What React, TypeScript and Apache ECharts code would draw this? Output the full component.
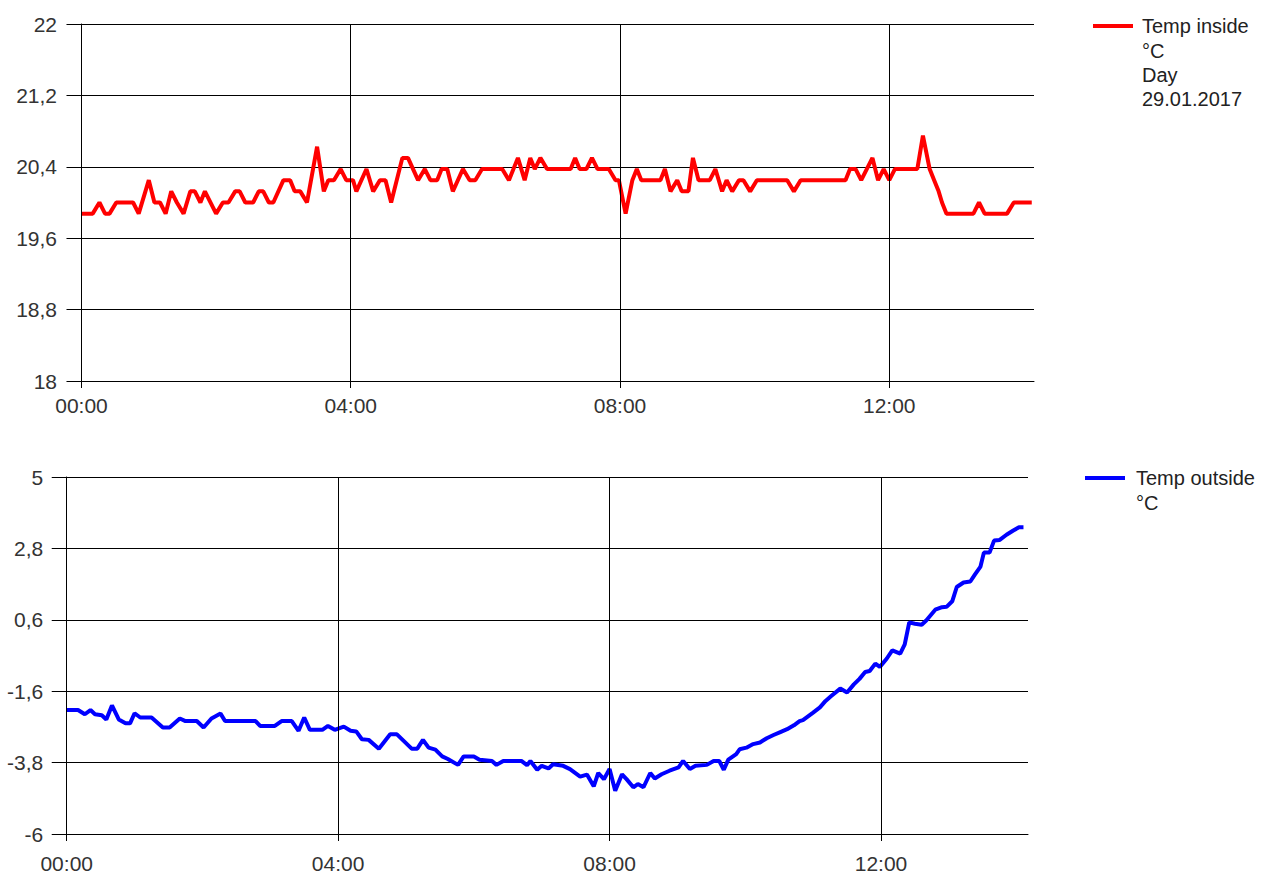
import React, { useEffect, useRef } from 'react';
import * as echarts from 'echarts';

// [minutes since 00:00, °C]
const insideTemp: [number, number][] = [
  [0, 19.875], [10, 19.875], [16, 20], [21, 19.875], [25, 19.875], [31, 20], [46, 20], [51, 19.875],
  [60, 20.25], [65, 20], [70, 20], [75, 19.875], [80, 20.125], [85, 20], [91, 19.875], [97, 20.125],
  [101, 20.125], [106, 20], [110, 20.125], [120, 19.875], [126, 20], [131, 20], [137, 20.125], [141, 20.125],
  [146, 20], [153, 20], [158, 20.125], [162, 20.125], [167, 20], [171, 20], [180, 20.25], [186, 20.25],
  [190, 20.125], [195, 20.125], [201, 20], [210, 20.625], [216, 20.125], [220, 20.25], [225, 20.25], [231, 20.375],
  [236, 20.25], [242, 20.25], [245, 20.125], [254, 20.375], [260, 20.125], [266, 20.25], [271, 20.25], [276, 20],
  [286, 20.5], [291, 20.5], [300, 20.25], [306, 20.375], [311, 20.25], [317, 20.25], [321, 20.375], [326, 20.375],
  [331, 20.125], [340, 20.375], [346, 20.25], [351, 20.25], [357, 20.375], [375, 20.375], [381, 20.25], [389, 20.5],
  [395, 20.25], [400, 20.5], [404, 20.375], [409, 20.5], [415, 20.375], [436, 20.375], [440, 20.5], [444, 20.375],
  [450, 20.375], [455, 20.5], [460, 20.375], [470, 20.375], [476, 20.25], [479, 20.25], [485, 19.875], [491, 20.25],
  [495, 20.375], [499, 20.25], [516, 20.25], [520, 20.375], [525, 20.125], [531, 20.25], [535, 20.125], [541, 20.125],
  [545, 20.5], [550, 20.25], [560, 20.25], [565, 20.375], [571, 20.125], [575, 20.25], [580, 20.125], [586, 20.25],
  [590, 20.25], [596, 20.125], [602, 20.25], [629, 20.25], [635, 20.125], [641, 20.25], [681, 20.25], [685, 20.375],
  [690, 20.375], [695, 20.25], [705, 20.5], [710, 20.25], [715, 20.375], [720, 20.25], [725, 20.375], [745, 20.375],
  [750, 20.75], [756, 20.375], [760, 20.25], [764, 20.125], [767, 20], [771, 19.875], [795, 19.875], [800, 20],
  [805, 19.875], [825, 19.875], [831, 20], [847, 20],
];

const outsideTemp: [number, number][] = [
  [0, -2.18], [10, -2.18], [16, -2.31], [21, -2.18], [25, -2.31], [31, -2.34], [35, -2.47], [40, -2.04],
  [46, -2.47], [52, -2.59], [56, -2.59], [60, -2.28], [65, -2.41], [75, -2.41], [85, -2.72], [91, -2.72],
  [100, -2.44], [105, -2.52], [115, -2.52], [121, -2.72], [128, -2.44], [136, -2.29], [140, -2.52], [167, -2.52],
  [171, -2.67], [184, -2.67], [190, -2.52], [199, -2.52], [205, -2.82], [210, -2.41], [215, -2.79], [226, -2.79],
  [231, -2.67], [237, -2.79], [245, -2.69], [251, -2.82], [256, -2.84], [261, -3.08], [267, -3.1], [276, -3.37],
  [286, -2.93], [292, -2.93], [305, -3.37], [310, -3.37], [315, -3.1], [320, -3.34], [326, -3.4], [332, -3.61],
  [337, -3.69], [346, -3.87], [351, -3.61], [360, -3.61], [365, -3.71], [376, -3.75], [380, -3.87], [386, -3.75],
  [402, -3.75], [407, -3.88], [410, -3.75], [416, -4.02], [420, -3.9], [426, -3.98], [430, -3.85], [439, -3.9],
  [445, -4.0], [454, -4.23], [460, -4.17], [466, -4.53], [470, -4.12], [475, -4.31], [480, -4.0], [485, -4.67],
  [491, -4.16], [495, -4.31], [501, -4.56], [505, -4.46], [510, -4.56], [516, -4.12], [520, -4.29], [526, -4.16],
  [533, -4.05], [541, -3.95], [545, -3.75], [551, -4.0], [556, -3.9], [566, -3.87], [572, -3.75], [577, -3.75],
  [581, -4.02], [585, -3.71], [592, -3.54], [595, -3.39], [601, -3.34], [607, -3.23], [613, -3.18], [619, -3.05],
  [625, -2.95], [631, -2.86], [637, -2.77], [643, -2.65], [648, -2.52], [651, -2.49], [660, -2.26], [666, -2.1],
  [671, -1.9], [676, -1.75], [684, -1.52], [690, -1.64], [696, -1.39], [701, -1.22], [706, -1.01], [710, -0.98],
  [715, -0.75], [719, -0.85], [725, -0.6], [730, -0.34], [737, -0.44], [741, -0.16], [745, 0.52], [750, 0.48],
  [756, 0.45], [760, 0.58], [768, 0.91], [774, 0.99], [778, 1.0], [783, 1.17], [787, 1.61], [793, 1.75],
  [799, 1.78], [803, 1.99], [808, 2.24], [811, 2.67], [816, 2.67], [820, 3.04], [825, 3.06], [831, 3.22],
  [837, 3.35], [842, 3.45], [846, 3.45],
];

const timeTicks = [0, 240, 480, 720];
const insideYTicks = [18, 18.8, 19.6, 20.4, 21.2, 22];
const outsideYTicks = [-6, -3.8, -1.6, 0.6, 2.8, 5];
const insideLegend = ['Temp inside', '°C', 'Day', '29.01.2017'];
const outsideLegend = ['Temp outside', '°C'];

const FONT = 'Liberation Sans';

const fmtTime = (v: number) => {
  const h = Math.floor(v / 60);
  const m = Math.round(v - h * 60);
  return String(h).padStart(2, '0') + ':' + String(m).padStart(2, '0');
};
const fmtNum = (v: number) => {
  const r = Math.round(v * 10) / 10;
  return Number.isInteger(r) ? String(r) : r.toFixed(1).replace('.', ',');
};
const step = (t: number[]) => Math.round((t[1] - t[0]) * 1000) / 1000;

export default function App() {
  const ref = useRef<HTMLDivElement>(null);
  useEffect(() => {
    document.body.style.margin = '0';
    if (!ref.current) return;
    const chart = echarts.init(ref.current, undefined, { renderer: 'svg' });

    const xAxisBase = (gridIndex: number, min: number, max: number, margin: number) => ({
      type: 'value',
      gridIndex,
      min,
      max,
      axisLine: { show: true, onZero: false, lineStyle: { color: '#000', width: 1 } },
      axisTick: { show: true, length: 7, customValues: timeTicks, lineStyle: { color: '#000' } },
      axisLabel: {
        customValues: timeTicks,
        formatter: (v: number) => fmtTime(v),
        color: '#333',
        fontFamily: FONT,
        fontSize: 21,
        margin,
      },
      splitLine: { show: false },
    });

    const yAxisBase = (gridIndex: number, ticks: number[], margin: number) => ({
      type: 'value',
      gridIndex,
      min: ticks[0],
      max: ticks[ticks.length - 1],
      interval: step(ticks),
      axisLine: { show: true, lineStyle: { color: '#000', width: 1 } },
      axisTick: { show: true, length: 15, lineStyle: { color: '#000' } },
      axisLabel: {
        formatter: (v: number) => fmtNum(v),
        color: '#333',
        fontFamily: FONT,
        fontSize: 21,
        margin,
      },
      splitLine: { show: true, lineStyle: { color: '#000', width: 1 } },
    });

    const vGrid = {
      silent: true,
      symbol: ['none', 'none'],
      label: { show: false },
      lineStyle: { color: '#000', width: 1, type: 'solid' },
      emphasis: { disabled: true },
      data: timeTicks.map((t) => ({ xAxis: t })),
    };

    chart.setOption({
      animation: false,
      backgroundColor: '#fff',
      grid: [
        { left: 77, top: 24, width: 957, height: 357, containLabel: false },
        { left: 62.2, top: 477, width: 965.8, height: 358.5, containLabel: false },
      ],
      xAxis: [xAxisBase(0, -4, 849, 14), xAxisBase(1, -4, 850, 19)],
      yAxis: [yAxisBase(0, insideYTicks, 20), yAxisBase(1, outsideYTicks, 19)],
      legend: [
        {
          data: [insideLegend[0]],
          left: 1093,
          top: 14,
          padding: 0,
          icon: 'rect',
          itemWidth: 40,
          itemHeight: 4,
          selectedMode: false,
          textStyle: { color: '#222', fontFamily: FONT, fontSize: 20, lineHeight: 24, padding: [0, 0, 0, 4] },
        },
        {
          data: [outsideLegend[0]],
          left: 1085,
          top: 466,
          padding: 0,
          icon: 'rect',
          itemWidth: 40,
          itemHeight: 4,
          selectedMode: false,
          textStyle: { color: '#222', fontFamily: FONT, fontSize: 20, lineHeight: 24, padding: [0, 0, 0, 6] },
        },
      ],
      title: [
        {
          text: insideLegend.slice(1).join('\n'),
          left: 1142,
          top: 39,
          padding: 0,
          textStyle: { color: '#222', fontFamily: FONT, fontSize: 20, fontWeight: 'normal', lineHeight: 24 },
        },
        {
          text: outsideLegend.slice(1).join('\n'),
          left: 1136,
          top: 491,
          padding: 0,
          textStyle: { color: '#222', fontFamily: FONT, fontSize: 20, fontWeight: 'normal', lineHeight: 24 },
        },
      ],
      series: [
        {
          name: insideLegend[0],
          type: 'line',
          xAxisIndex: 0,
          yAxisIndex: 0,
          data: insideTemp,
          showSymbol: false,
          symbol: 'none',
          color: '#ff0000',
          lineStyle: { color: '#ff0000', width: 4 },
          markLine: vGrid,
          z: 3,
        },
        {
          name: outsideLegend[0],
          type: 'line',
          xAxisIndex: 1,
          yAxisIndex: 1,
          data: outsideTemp,
          showSymbol: false,
          symbol: 'none',
          color: '#0000ff',
          lineStyle: { color: '#0000ff', width: 4 },
          markLine: vGrid,
          z: 3,
        },
      ],
    });
    return () => chart.dispose();
  }, []);
  return <div ref={ref} style={{ width: 1266, height: 874 }} />;
}
